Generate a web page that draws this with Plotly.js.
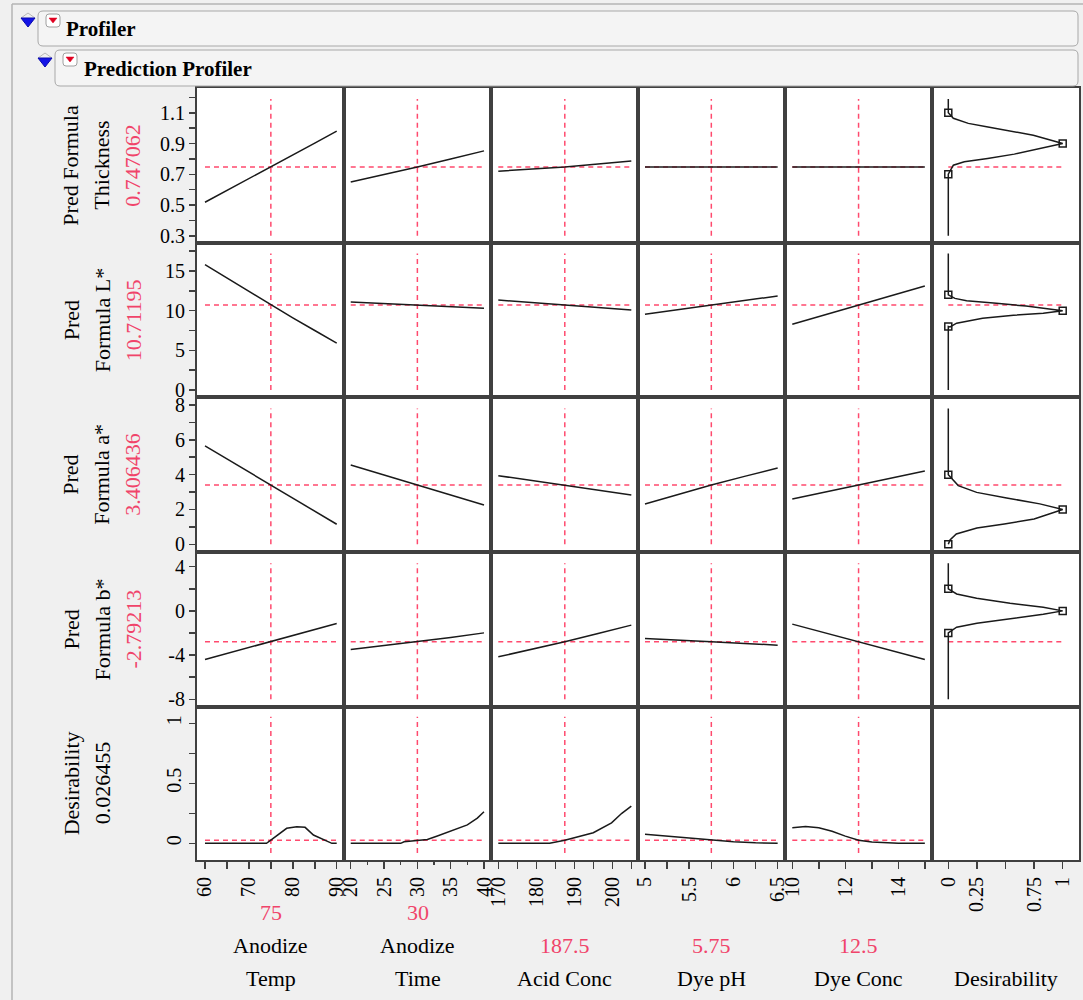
<!DOCTYPE html>
<html>
<head>
<meta charset="utf-8">
<script src="https://cdn.plot.ly/plotly-3.0.1.min.js"></script>
<style>html,body{margin:0;padding:0;background:#f0f0f0;}#chart{width:1083px;height:1000px;}</style>
</head>
<body>
<div id="chart"></div>
<script>
// ---------------- DATA ----------------
const factorNames = [["Anodize", "Temp"], ["Anodize", "Time"], ["Acid Conc"], ["Dye pH"], ["Dye Conc"], ["Desirability"]];
const factorCurrent = [75, 30, 187.5, 5.75, 12.5];
const factorCurrentText = ["75", "30", "187.5", "5.75", "12.5"];
const responseNames = [["Pred Formula", "Thickness"], ["Pred", "Formula L*"], ["Pred", "Formula a*"], ["Pred", "Formula b*"], ["Desirability"]];
const responseCurrent = [0.747062, 10.71195, 3.406436, -2.79213, 0.026455];
const responseCurrentText = ["0.747062", "10.71195", "3.406436", "-2.79213", "0.026455"];

// factor grids
const tempGrid = [60, 65, 70, 75, 80, 85, 90];
const timeGrid = [20, 25, 30, 35, 40];
const acidGrid = [170, 178.75, 187.5, 196.25, 205];
const phGrid = [5, 5.375, 5.75, 6.125, 6.5];
const concGrid = [10, 11.25, 12.5, 13.75, 15];

// Thickness profiles
const thickTemp = [0.518, 0.594, 0.670, 0.747, 0.825, 0.903, 0.980];
const thickTime = [0.650, 0.698, 0.747, 0.799, 0.852];
const thickAcid = [0.720, 0.733, 0.747, 0.767, 0.787];
const thickPH = [0.747, 0.747, 0.747, 0.747, 0.747];
const thickConc = [0.747, 0.747, 0.747, 0.747, 0.747];
// L* profiles
const lTemp = [15.8, 14.1, 12.4, 10.71, 9.1, 7.5, 5.9];
const lTime = [11.1, 10.9, 10.71, 10.5, 10.3];
const lAcid = [11.34, 11.0, 10.71, 10.4, 10.08];
const lPH = [9.54, 10.1, 10.71, 11.3, 11.85];
const lConc = [8.28, 9.5, 10.71, 11.9, 13.1];
// a* profiles
const aTemp = [5.65, 4.9, 4.15, 3.406, 2.65, 1.9, 1.15];
const aTime = [4.55, 3.98, 3.406, 2.83, 2.26];
const aAcid = [3.94, 3.67, 3.406, 3.12, 2.83];
const aPH = [2.31, 2.85, 3.406, 3.9, 4.38];
const aConc = [2.6, 3.0, 3.406, 3.8, 4.21];
// b* profiles
const bTemp = [-4.4, -3.86, -3.33, -2.79, -2.25, -1.7, -1.14];
const bTime = [-3.5, -3.15, -2.79, -2.4, -1.99];
const bAcid = [-4.16, -3.5, -2.79, -2.05, -1.29];
const bPH = [-2.5, -2.62, -2.79, -2.95, -3.1];
const bConc = [-1.2, -2.0, -2.79, -3.6, -4.4];
// Desirability profiles
const desTempX = [60, 70, 74, 75, 76.5, 78.6, 80.9, 82.8, 84.7, 86.9, 88.9, 90];
const desTempY = [0, 0, 0, 0.026, 0.07, 0.125, 0.138, 0.133, 0.069, 0.033, 0, 0];
const desTimeX = [20, 27.5, 28, 30, 31.5, 33, 35.5, 37.5, 39, 40];
const desTimeY = [0, 0, 0.013, 0.026, 0.032, 0.061, 0.11, 0.153, 0.21, 0.263];
const desAcidX = [170, 183.5, 187.5, 190.6, 195, 199.8, 202.5, 205];
const desAcidY = [0, 0, 0.026, 0.05, 0.088, 0.17, 0.25, 0.31];
const desPHX = [5, 5.25, 5.5, 5.75, 6, 6.25, 6.5];
const desPHY = [0.075, 0.06, 0.044, 0.026, 0.013, 0.004, 0];
const desConcX = [10, 10.5, 11, 11.5, 12, 12.5, 13, 13.5, 14, 15];
const desConcY = [0.13, 0.14, 0.13, 0.1, 0.06, 0.026, 0.01, 0.002, 0, 0];

// Desirability functions (x = desirability, y = response)
const dfThickX = [0, 0, 0.044, 0.175, 0.335, 0.51, 0.743, 1, 0.81, 0.577, 0.344, 0.14, 0.044, 0, 0];
const dfThickY = [1.19, 1.1, 1.064, 1.031, 1.009, 0.987, 0.954, 0.9, 0.868, 0.831, 0.803, 0.781, 0.759, 0.7, 0.3];
const dfLX = [0, 0, 0.058, 0.16, 0.42, 0.68, 1, 0.83, 0.57, 0.3, 0.073, 0.015, 0, 0];
const dfLY = [17.2, 12, 11.55, 11.25, 10.92, 10.58, 10, 9.68, 9.43, 9.05, 8.42, 7.95, 8, 0];
const dfAX = [0, 0, 0.087, 0.248, 0.51, 0.8, 1, 0.75, 0.49, 0.25, 0.07, 0.015, 0];
const dfAY = [7.8, 4, 3.37, 2.98, 2.66, 2.32, 2, 1.45, 1.17, 0.94, 0.59, 0.25, 0];
const dfBX = [0, 0, 0.073, 0.248, 0.54, 0.83, 1, 0.83, 0.51, 0.25, 0.073, 0.009, 0, 0];
const dfBY = [4.3, 2, 1.53, 1.14, 0.69, 0.33, 0, -0.31, -0.76, -1.12, -1.48, -1.97, -2, -8];
const dfMarkX = [0, 1, 0];
const dfThickMarkY = [1.1, 0.9, 0.7];
const dfLMarkY = [12, 10, 8];
const dfAMarkY = [4, 2, 0];
const dfBMarkY = [2, 0, -2];

// response span drawn by the reference lines
const responseSpan = [[0.3, 1.19], [0, 17.2], [0, 7.8], [-8, 4.3], [-0.08, 1.055]];

// tick labels
const xTickVals = [[60, 70, 80, 90], [20, 25, 30, 35, 40], [170, 180, 190, 200], [5, 5.5, 6, 6.5], [10, 12, 14], [0, 0.25, 0.75, 1]];
const xMinorVals = [[65, 75, 85], [22.5, 27.5, 32.5, 37.5], [175, 185, 195, 205], [5.25, 5.75, 6.25], [11, 13, 15], [0.5]];
const yTickVals = [[0.3, 0.5, 0.7, 0.9, 1.1], [0, 5, 10, 15], [0, 2, 4, 6, 8], [-8, -4, 0, 4], [0, 0.5, 1]];
const yMinorVals = [[0.4, 0.6, 0.8, 1.0, 1.2], [2.5, 7.5, 12.5, 17.5], [1, 3, 5, 7], [-6, -2, 2], [0.25, 0.75]];

// ---------------- LAYOUT GEOMETRY ----------------
const W = 1083, H = 1000;
const colEdges = [197, 344, 491, 638, 785, 932, 1079];
const rowEdges = [88, 243.3, 397.3, 552.3, 706.7, 860];
const xRanges = [[58.18, 91.66], [18.99, 41.05], [168.08, 206.76], [4.921, 6.583], [9.725, 15.27], [-0.1425, 1.1425]];
const yRanges = [[0.251, 1.261], [-0.92, 18.49], [-0.46, 8.44], [-8.67, 5.30], [-0.139, 1.138]];

const FONT = 'Liberation Serif, "Times New Roman", serif';
const RED = '#f0446a';
const DASHRED = '#ff4a6e';
const FRAME = '#404040';
const CURVE = '#1a1a1a';

const grids = [tempGrid, timeGrid, acidGrid, phGrid, concGrid];
const profiles = [
  [thickTemp, thickTime, thickAcid, thickPH, thickConc],
  [lTemp, lTime, lAcid, lPH, lConc],
  [aTemp, aTime, aAcid, aPH, aConc],
  [bTemp, bTime, bAcid, bPH, bConc]
];
const desX = [desTempX, desTimeX, desAcidX, desPHX, desConcX];
const desY = [desTempY, desTimeY, desAcidY, desPHY, desConcY];
const dfX = [dfThickX, dfLX, dfAX, dfBX];
const dfY = [dfThickY, dfLY, dfAY, dfBY];
const dfMarkY = [dfThickMarkY, dfLMarkY, dfAMarkY, dfBMarkY];

const px = v => v / W;
const py = v => 1 - v / H;

const layout = {
  width: W, height: H,
  margin: {l: 0, r: 0, t: 0, b: 0, pad: 0},
  paper_bgcolor: '#f0f0f0',
  plot_bgcolor: '#ffffff',
  showlegend: false,
  font: {family: FONT, size: 20, color: '#000'},
  shapes: [],
  annotations: []
};
const traces = [];

function axName(i) { return i === 1 ? '' : String(i); }

for (let r = 0; r < 5; r++) {
  for (let c = 0; c < 6; c++) {
    const i = r * 6 + c + 1;
    const s = axName(i);
    const xa = {
      domain: [px(colEdges[c]), px(colEdges[c + 1])],
      range: xRanges[c], anchor: 'y' + s,
      showline: true, mirror: true, linecolor: FRAME, linewidth: 2,
      showgrid: false, zeroline: false, fixedrange: true,
      showticklabels: false, ticks: ''
    };
    if (r === 4) {
      Object.assign(xa, {
        ticks: 'outside', ticklen: 7, tickwidth: 1.5, tickcolor: FRAME,
        showticklabels: true, tickmode: 'array',
        tickvals: xTickVals[c], ticktext: xTickVals[c].map(String),
        tickangle: -90, tickfont: {family: FONT, size: 20, color: '#000'},
        minor: {tickmode: 'array', tickvals: xMinorVals[c], ticks: 'outside',
                ticklen: c === 1 ? 3 : 7, tickwidth: 1.5, tickcolor: FRAME}
      });
    }
    const ya = {
      domain: [py(rowEdges[r + 1]), py(rowEdges[r])],
      range: yRanges[r], anchor: 'x' + s,
      showline: true, mirror: true, linecolor: FRAME, linewidth: 2,
      showgrid: false, zeroline: false, fixedrange: true,
      showticklabels: false, ticks: ''
    };
    if (c === 0) {
      Object.assign(ya, {
        ticks: 'outside', ticklen: 6, tickwidth: 1.5, tickcolor: FRAME,
        showticklabels: true, tickmode: 'array',
        tickvals: yTickVals[r], ticktext: yTickVals[r].map(String),
        tickangle: r === 4 ? -90 : 0,
        tickfont: {family: FONT, size: 20, color: '#000'},
        minor: {tickmode: 'array', tickvals: yMinorVals[r], ticks: 'outside',
                ticklen: 6, tickwidth: 1.5, tickcolor: FRAME}
      });
    }
    layout['xaxis' + s] = xa;
    layout['yaxis' + s] = ya;

    const ax = {xaxis: 'x' + s, yaxis: 'y' + s, hoverinfo: 'skip', showlegend: false};
    const dash = {color: DASHRED, width: 1.5, dash: '5px,4px'};

    if (c < 5) {
      const g = grids[c];
      // reference lines
      traces.push(Object.assign({type: 'scatter', mode: 'lines', x: [factorCurrent[c], factorCurrent[c]], y: responseSpan[r], line: dash}, ax));
      traces.push(Object.assign({type: 'scatter', mode: 'lines', x: [g[0], g[g.length - 1]], y: [responseCurrent[r], responseCurrent[r]], line: dash}, ax));
      if (r < 4) {
        traces.push(Object.assign({type: 'scatter', mode: 'lines', x: g, y: profiles[r][c], line: {color: CURVE, width: 1.5}}, ax));
      } else {
        traces.push(Object.assign({type: 'scatter', mode: 'lines', x: desX[c], y: desY[c], line: {color: CURVE, width: 1.5}}, ax));
      }
    } else {
      if (r < 4) {
        traces.push(Object.assign({type: 'scatter', mode: 'lines', x: [0, 1], y: [responseCurrent[r], responseCurrent[r]], line: dash}, ax));
        traces.push(Object.assign({type: 'scatter', mode: 'lines', x: dfX[r], y: dfY[r], line: {color: CURVE, width: 1.5}}, ax));
        traces.push(Object.assign({type: 'scatter', mode: 'markers', x: dfMarkX, y: dfMarkY[r],
          marker: {symbol: 'square-open', size: 7, color: CURVE, line: {width: 1.5, color: CURVE}}}, ax));
      } else {
        traces.push(Object.assign({type: 'scatter', mode: 'lines', x: [], y: []}, ax));
      }
    }
  }
}

// ---------------- LABELS ----------------
const labelX = [71, 102, 133];
for (let r = 0; r < 5; r++) {
  const cy = (rowEdges[r] + rowEdges[r + 1]) / 2;
  const items = responseNames[r].map(t => ({t: t, col: '#000'}));
  items.push({t: responseCurrentText[r], col: r === 4 ? '#000' : RED});
  items.forEach((it, k) => {
    layout.annotations.push({xref: 'paper', yref: 'paper', x: px(labelX[k]), y: py(cy),
      text: it.t, showarrow: false, textangle: -90, xanchor: 'center', yanchor: 'middle',
      font: {family: FONT, size: 22, color: it.col}});
  });
}
const bottomY = [912, 945, 978];
for (let c = 0; c < 6; c++) {
  const cx = (colEdges[c] + colEdges[c + 1]) / 2;
  const items = [];
  if (c < 5) items.push({t: factorCurrentText[c], col: RED});
  factorNames[c].forEach(t => items.push({t: t, col: '#000'}));
  const start = 3 - items.length;
  items.forEach((it, k) => {
    layout.annotations.push({xref: 'paper', yref: 'paper', x: px(cx), y: py(bottomY[start + k]),
      text: it.t, showarrow: false, xanchor: 'center', yanchor: 'middle',
      font: {family: FONT, size: 22, color: it.col}});
  });
}

// ---------------- HEADER ----------------
function P(x, y) { return px(x) + ',' + py(y); }
function rrect(x0, y0, x1, y1, r) {
  return 'M' + P(x0 + r, y0) + ' L' + P(x1 - r, y0) + ' Q' + P(x1, y0) + ' ' + P(x1, y0 + r) +
    ' L' + P(x1, y1 - r) + ' Q' + P(x1, y1) + ' ' + P(x1 - r, y1) +
    ' L' + P(x0 + r, y1) + ' Q' + P(x0, y1) + ' ' + P(x0, y1 - r) +
    ' L' + P(x0, y0 + r) + ' Q' + P(x0, y0) + ' ' + P(x0 + r, y0) + ' Z';
}
function tri(x0, x1, yTop, yBot) {
  return 'M' + P(x0, yTop) + ' L' + P(x1, yTop) + ' L' + P((x0 + x1) / 2, yBot) + ' Z';
}
const shp = layout.shapes;
// outer panel
shp.push({type: 'line', xref: 'paper', yref: 'paper', x0: px(12), x1: px(1083), y0: py(4), y1: py(4), line: {color: '#b4b4b4', width: 1.5}});
shp.push({type: 'line', xref: 'paper', yref: 'paper', x0: px(12), x1: px(12), y0: py(4), y1: py(1000), line: {color: '#b4b4b4', width: 1.5}});
// header boxes
shp.push({type: 'path', xref: 'paper', yref: 'paper', path: rrect(38, 11, 1078, 46, 5), fillcolor: '#f4f4f4', line: {color: '#a8a8a8', width: 1}});
shp.push({type: 'path', xref: 'paper', yref: 'paper', path: rrect(55, 50, 1078, 86, 5), fillcolor: '#f4f4f4', line: {color: '#a8a8a8', width: 1}});
// disclosure icons
[[21, 35, 18, 27, 13], [38, 52, 58, 67, 53]].forEach(a => {
  shp.push({type: 'path', xref: 'paper', yref: 'paper', path: 'M' + P(a[0], a[2]) + ' L' + P((a[0] + a[1]) / 2, a[4]) + ' L' + P(a[1], a[2]), line: {color: '#b8b8b8', width: 1}});
  shp.push({type: 'path', xref: 'paper', yref: 'paper', path: tri(a[0], a[1], a[2], a[3]), fillcolor: '#1414e6', line: {color: '#0a0ab0', width: 1}});
});
[[46, 60, 14, 27], [63, 77, 53, 66]].forEach(a => {
  shp.push({type: 'path', xref: 'paper', yref: 'paper', path: rrect(a[0], a[2], a[1], a[3], 3), fillcolor: '#ffffff', line: {color: '#a0a0a0', width: 1}});
  shp.push({type: 'path', xref: 'paper', yref: 'paper', path: tri(a[0] + 3, a[1] - 3, a[2] + 4, a[2] + 9), fillcolor: '#e00020', line: {color: '#e00020', width: 0.5}});
});
layout.annotations.push({xref: 'paper', yref: 'paper', x: px(64), y: py(29), text: '<b>Profiler</b>', showarrow: false,
  xanchor: 'left', yanchor: 'middle', font: {family: FONT, size: 21, color: '#000'}});
layout.annotations.push({xref: 'paper', yref: 'paper', x: px(82), y: py(69), text: '<b>Prediction Profiler</b>', showarrow: false,
  xanchor: 'left', yanchor: 'middle', font: {family: FONT, size: 21, color: '#000'}});

Plotly.newPlot('chart', traces, layout, {displayModeBar: false, staticPlot: true});
</script>
</body>
</html>
